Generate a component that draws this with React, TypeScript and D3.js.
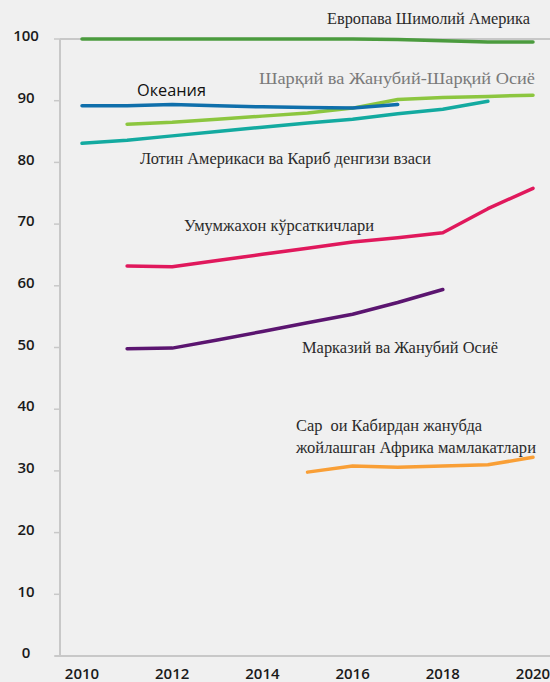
import React from "react";
import * as d3 from "d3";

const years = [2010, 2011, 2012, 2013, 2014, 2015, 2016, 2017, 2018, 2019, 2020];
const yTicks = [0, 10, 20, 30, 40, 50, 60, 70, 80, 90, 100];
const xTicks = [2010, 2012, 2014, 2016, 2018, 2020];

const europeNA = [100, 100, 100, 100, 100, 100, 100, 99.9, 99.7, 99.5, 99.5];
const oceania = [89.2, 89.2, 89.4, 89.2, 89.0, 88.9, 88.8, 89.4, null, null, null];
const eastAsia = [null, 86.2, 86.5, 87.0, 87.5, 88.0, 88.8, 90.2, 90.5, 90.7, 90.9];
const latinAm = [83.1, 83.6, 84.3, 85.0, 85.7, 86.4, 87.0, 87.9, 88.6, 89.9, null];
const world = [null, 63.2, 63.1, 64.1, 65.1, 66.1, 67.1, 67.8, 68.6, 72.5, 75.8];
const centralAsia = [null, 49.8, 49.9, 51.2, 52.6, 54.0, 55.4, 57.3, 59.4, null, null];
const subSahara = [null, null, null, null, null, 29.8, 30.8, 30.6, 30.8, 31.0, 32.2];

const series = [
  { name: "subSahara", values: subSahara, color: "#f99f36" },
  { name: "centralAsia", values: centralAsia, color: "#5b1570" },
  { name: "world", values: world, color: "#e0185c" },
  { name: "latinAm", values: latinAm, color: "#13aaa0" },
  { name: "eastAsia", values: eastAsia, color: "#8cc63f" },
  { name: "oceania", values: oceania, color: "#0f6fab" },
  { name: "europeNA", values: europeNA, color: "#4b9b3e" },
];

const labels = [
  { text: "Европава Шимолий Америка", x: 327, y: 24, w: 203, color: "#2a2a2a", sans: false },
  { text: "Шарқий ва Жанубий-Шарқий Осиё", x: 259, y: 84, w: 276, color: "#7a7a7a", sans: false },
  { text: "Океания", x: 137, y: 96, w: 69, color: "#111111", sans: true },
  { text: "Лотин Америкаси ва Кариб денгизи взаси", x: 140, y: 164, w: 291, color: "#2a2a2a", sans: false },
  { text: "Умумжахон кўрсаткичлари", x: 184, y: 231, w: 190, color: "#2a2a2a", sans: false },
  { text: "Марказий ва Жанубий Осиё", x: 302, y: 353, w: 196, color: "#2a2a2a", sans: false },
  { text: "Сар  ои Кабирдан жанубда", x: 296, y: 431, w: 186, color: "#2a2a2a", sans: false },
  { text: "жойлашган Африка мамлакатлари", x: 296, y: 453, w: 240, color: "#2a2a2a", sans: false },
];

const W = 550;
const H = 682;

export default function App() {
  const x = d3.scaleLinear().domain([2010, 2020]).range([82, 533]);
  const y = d3.scaleLinear().domain([0, 100]).range([656, 39]);
  const axisLeft = 60;
  const axisColor = "#c8c8c8";

  const line = d3
    .line<number | null>()
    .defined((d) => d !== null)
    .x((_, i) => x(years[i]))
    .y((d) => y(d as number));

  return (
    <svg
      width={W}
      height={H}
      style={{ position: "absolute", left: 0, top: 0, display: "block" }}
    >
      <rect x={0} y={0} width={W} height={H} fill="#f0f0f0" />
      <line x1={axisLeft} x2={W} y1={y(100)} y2={y(100)} stroke={axisColor} strokeWidth={2} />
      <line x1={axisLeft} x2={axisLeft} y1={y(100)} y2={y(0)} stroke={axisColor} strokeWidth={2} />
      <line x1={55} x2={W} y1={y(0)} y2={y(0)} stroke={axisColor} strokeWidth={2} />
      {yTicks.map((t) => (
        <g key={t}>
          <line x1={54} x2={axisLeft} y1={y(t)} y2={y(t)} stroke={axisColor} strokeWidth={1.5} />
          <text
            x={26}
            y={y(t) - 3}
            dy="0.35em"
            textAnchor="middle"
            fontFamily="'Open Sans', sans-serif"
            fontWeight={600}
            fontSize={15}
            fill="#1a1a1a"
          >
            {t}
          </text>
        </g>
      ))}
      {xTicks.map((t) => (
        <text
          key={t}
          x={x(t)}
          y={679}
          textAnchor="middle"
          fontFamily="'Open Sans', sans-serif"
          fontWeight={600}
          fontSize={15}
          fill="#1a1a1a"
        >
          {t}
        </text>
      ))}
      {series.map((s) => (
        <path
          key={s.name}
          d={line(s.values) || ""}
          fill="none"
          stroke={s.color}
          strokeWidth={3.5}
          strokeLinecap="round"
          strokeLinejoin="round"
        />
      ))}
      {labels.map((l, i) => (
        <text
          key={i}
          x={l.x}
          y={l.y}
          textLength={l.w}
          lengthAdjust="spacingAndGlyphs"
          fontFamily={l.sans ? "'Open Sans', sans-serif" : "'Liberation Serif', serif"}
          fontSize={l.sans ? 16 : 17}
          fill={l.color}
          style={{ whiteSpace: "pre" }}
        >
          {l.text}
        </text>
      ))}
    </svg>
  );
}
